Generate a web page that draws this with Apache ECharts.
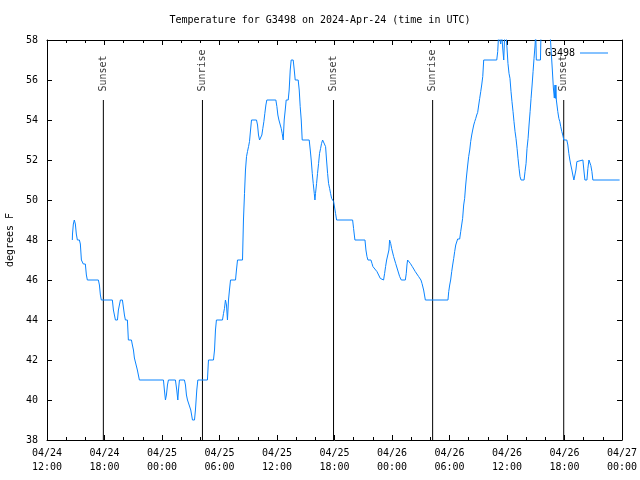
<!DOCTYPE html>
<html>
<head>
<meta charset="utf-8">
<script src="https://cdn.jsdelivr.net/npm/echarts@6/dist/echarts.min.js"></script>
<style>html,body{margin:0;padding:0;background:#fff;}#c{width:640px;height:480px;}</style>
</head>
<body>
<div id="c"></div>
<script>
// Hours after 2024-04-24 12:00 UTC
const obsHours = [
2.64,2.66,2.75,2.85,2.96,3.06,3.17,3.38,3.48,3.59,3.69,3.79,4.00,4.11,4.21,5.36,5.47,5.57,5.67,6.82,
6.93,7.14,7.35,7.45,7.66,7.87,8.08,8.18,8.39,8.49,8.81,8.91,9.02,9.12,9.30,9.43,9.64,12.15,12.25,12.36,
12.46,12.57,12.67,13.40,13.54,13.65,13.72,13.82,14.34,14.45,14.55,14.66,14.80,15.00,15.18,15.39,15.49,15.63,15.74,16.74,
16.85,17.37,17.48,17.58,17.68,18.31,18.42,18.52,18.62,18.73,18.83,18.94,19.04,19.15,19.67,19.77,19.88,20.40,20.50,20.61,
20.71,20.82,20.92,21.03,21.13,21.24,21.34,21.86,21.97,22.07,22.18,22.32,22.42,22.52,22.63,22.73,22.84,22.94,23.88,23.99,
24.09,24.20,24.33,24.44,24.54,24.65,24.75,24.86,24.96,25.17,25.27,25.38,25.48,25.69,25.80,25.90,26.21,26.32,26.42,26.53,
26.63,27.36,27.47,27.57,27.68,27.78,27.89,27.96,28.02,28.13,28.23,28.34,28.44,28.55,28.65,28.76,28.96,29.07,29.17,29.28,
29.38,29.49,29.59,29.70,29.91,30.01,30.11,30.22,31.89,31.99,32.13,33.18,33.28,33.39,33.49,33.80,33.91,34.01,34.43,34.78,
34.88,35.12,35.23,35.33,35.44,35.58,35.68,35.75,35.86,35.96,36.17,36.38,36.59,36.80,36.97,37.39,37.49,37.56,37.63,37.81,
37.91,38.12,38.43,38.78,39.02,39.13,39.30,39.48,41.84,41.92,42.02,42.12,42.23,42.33,42.44,42.54,42.65,42.85,43.06,43.17,
43.27,43.37,43.48,43.58,43.69,43.79,43.90,44.00,44.11,44.21,44.32,44.42,44.53,44.63,44.74,44.84,44.94,45.05,45.15,45.26,
45.36,45.47,45.57,46.93,47.03,47.14,47.24,47.34,47.45,47.55,47.66,47.76,47.87,48.00,48.10,48.21,48.31,48.42,48.52,48.63,
48.73,48.84,48.94,49.05,49.15,49.26,49.36,49.47,49.78,49.88,49.99,50.09,50.20,50.30,50.41,50.51,50.62,50.72,50.82,50.93,
51.00,51.06,51.49,51.55,52.00,52.50,52.63,52.73,52.84,52.94,53.01,53.05,53.10,53.15,53.20,53.30,53.41,53.51,53.61,53.72,
53.82,53.93,54.24,54.35,54.45,54.56,54.66,54.77,54.87,54.98,55.08,55.19,55.29,55.40,55.92,56.02,56.13,56.34,56.44,56.55,
56.65,56.75,56.86,56.96,59.75
];
const tempF = [
48.0,48.3,48.8,49.0,48.8,48.3,48.0,48.0,47.8,47.0,47.0,46.8,46.8,46.25,46.0,46.0,45.75,45.25,45.0,45.0,
44.5,44.0,44.0,44.5,45.0,45.0,44.25,44.0,44.0,43.0,43.0,42.75,42.5,42.1,42.0,41.5,41.0,41.0,40.5,40.0,
40.25,40.75,41.0,41.0,40.5,40.0,40.5,41.0,41.0,40.75,40.25,40.0,39.9,39.5,39.0,39.0,39.5,40.5,41.0,41.0,
42.0,42.0,42.5,43.5,44.0,44.0,44.33,44.58,45.0,44.75,44.0,45.0,45.5,46.0,46.0,46.5,47.0,47.0,49.0,50.33,
51.5,52.17,52.42,52.67,52.92,53.5,54.0,54.0,53.75,53.25,53.0,53.0,53.25,53.58,53.92,54.33,54.75,55.0,55.0,54.67,
54.25,54.0,53.92,53.58,53.33,53.0,54.0,54.5,55.0,55.0,55.5,56.5,57.0,57.0,56.5,56.0,56.0,55.5,54.67,54.0,
53.0,53.0,52.5,52.0,51.33,50.83,50.33,50.0,50.33,50.83,51.33,51.83,52.33,52.58,52.83,53.0,53.0,52.67,52.0,51.33,
50.83,50.58,50.33,50.08,49.92,49.83,49.33,49.0,49.0,48.58,48.0,48.0,47.5,47.17,47.0,47.0,46.83,46.67,46.42,46.08,
46.0,46.0,46.33,46.67,47.0,47.0,47.5,48.0,47.83,47.58,47.17,46.83,46.5,46.17,46.0,46.0,46.33,46.75,47.0,47.0,
46.83,46.67,46.42,46.17,46.0,45.83,45.5,45.0,45.0,45.42,45.75,46.0,46.42,46.75,47.08,47.42,47.75,48.05,48.05,48.42,
48.75,49.08,49.75,50.08,50.75,51.25,51.75,52.17,52.5,52.92,53.25,53.5,53.75,53.92,54.08,54.25,54.38,54.75,55.08,55.42,
55.75,56.17,57.0,57.0,57.42,58.4,58.3,57.8,58.3,57.6,57.0,58.3,58.5,57.6,56.83,56.33,56.08,55.42,54.92,54.42,
53.92,53.42,53.08,52.58,52.08,51.58,51.17,51.0,51.0,51.42,51.83,52.58,53.08,53.75,54.42,55.08,55.75,56.42,57.08,57.75,
58.4,57.0,57.0,58.4,58.6,58.3,58.2,56.5,55.6,55.1,55.75,55.08,55.75,55.0,54.92,54.42,54.08,53.92,53.67,53.42,
53.25,53.0,53.0,52.75,52.33,52.0,51.75,51.5,51.25,51.0,51.0,51.5,51.92,52.0,52.0,51.5,51.0,51.0,51.58,52.0,
51.92,51.72,51.42,51.0,51.0
];
const sunHours = [5.88, 16.22, 29.90, 40.24, 53.92];
const sunLabels = ['Sunset', 'Sunrise', 'Sunset', 'Sunrise', 'Sunset'];
const sunLineBottom = 38;
const sunLineTop = 55;
const seriesName = 'G3498';
const titleText = 'Temperature for G3498 on 2024-Apr-24 (time in UTC)';
const yTicks = [38, 40, 42, 44, 46, 48, 50, 52, 54, 56, 58];

const START = Date.UTC(2024, 3, 24, 12, 0, 0);
const HOUR = 3600000;
const FONT = 'DejaVu Sans Mono';
const pad = n => (n < 10 ? '0' : '') + n;

const tempData = obsHours.map((h, i) => [START + h * HOUR, tempF[i]]);

const sunLineSeries = sunHours.map((h, i) => ({
  type: 'line',
  name: 'sun' + i,
  silent: true,
  symbol: 'none',
  animation: false,
  lineStyle: { color: '#000', width: 1 },
  data: [[START + h * HOUR, sunLineBottom], [START + h * HOUR, sunLineTop]]
}));

const sunLabelSeries = {
  type: 'scatter',
  name: 'sunLabels',
  silent: true,
  symbol: 'circle',
  symbolSize: 1,
  itemStyle: { color: 'rgba(0,0,0,0)' },
  labelLayout: { hideOverlap: false },
  label: {
    show: true,
    position: 'top',
    distance: 8,
    rotate: 90,
    align: 'left',
    verticalAlign: 'middle',
    formatter: p => sunLabels[p.dataIndex],
    fontFamily: FONT,
    fontSize: 10,
    color: '#000'
  },
  data: sunHours.map(h => [START + h * HOUR, sunLineTop])
};

const xBase = {
  type: 'value',
  min: START,
  max: START + 60 * HOUR,
  interval: 6 * HOUR,
  splitLine: { show: false },
  axisLine: { show: true, onZero: false, lineStyle: { color: '#000', width: 1 } },
  axisTick: { show: true, inside: true, length: 5, lineStyle: { color: '#000' } },
  minorTick: { show: true, splitNumber: 3, length: 3, lineStyle: { color: '#000' } },
  minorSplitLine: { show: false }
};
const yBase = {
  type: 'value',
  min: yTicks[0],
  max: yTicks[yTicks.length - 1],
  interval: yTicks[1] - yTicks[0],
  splitLine: { show: false },
  axisLine: { show: true, onZero: false, lineStyle: { color: '#000', width: 1 } },
  axisTick: { show: true, inside: true, length: 5, lineStyle: { color: '#000' } }
};

const chart = echarts.init(document.getElementById('c'), null, { renderer: 'canvas' });
chart.setOption({
  animation: false,
  backgroundColor: '#fff',
  title: {
    text: titleText,
    left: 'center',
    top: 10,
    textStyle: { fontFamily: FONT, fontSize: 10, fontWeight: 'normal', color: '#000' }
  },
  legend: {
    data: [{ name: seriesName, icon: 'rect' }],
    right: 27,
    top: 43,
    align: 'right',
    itemWidth: 28,
    itemHeight: 1,
    textStyle: { fontFamily: FONT, fontSize: 10, color: '#000' }
  },
  grid: { left: 47, right: 18, top: 40, bottom: 40, containLabel: false, outerBoundsMode: 'none' },
  xAxis: [
    Object.assign({}, xBase, {
      position: 'bottom',
      axisLabel: {
        show: true,
        margin: 6,
        fontFamily: FONT,
        fontSize: 10,
        color: '#000',
        lineHeight: 14,
        showMinLabel: true,
        showMaxLabel: true,
        formatter: v => {
          const d = new Date(v);
          return pad(d.getUTCMonth() + 1) + '/' + pad(d.getUTCDate()) + '\n' +
                 pad(d.getUTCHours()) + ':' + pad(d.getUTCMinutes());
        }
      }
    }),
    Object.assign({}, xBase, { position: 'top', axisLabel: { show: false } })
  ],
  yAxis: [
    Object.assign({}, yBase, {
      position: 'left',
      name: 'degrees F',
      nameLocation: 'middle',
      nameRotate: 90,
      nameGap: 31,
      nameTextStyle: { fontFamily: FONT, fontSize: 10, color: '#000' },
      axisLabel: { show: true, margin: 9, fontFamily: FONT, fontSize: 10, color: '#000' }
    }),
    Object.assign({}, yBase, { position: 'right', axisLabel: { show: false } })
  ],
  series: sunLineSeries.concat([sunLabelSeries, {
    type: 'line',
    name: seriesName,
    symbol: 'none',
    showSymbol: false,
    clip: true,
    color: '#0a84ff',
    lineStyle: { color: '#0a84ff', width: 1 },
    data: tempData
  }])
});
</script>
</body>
</html>
